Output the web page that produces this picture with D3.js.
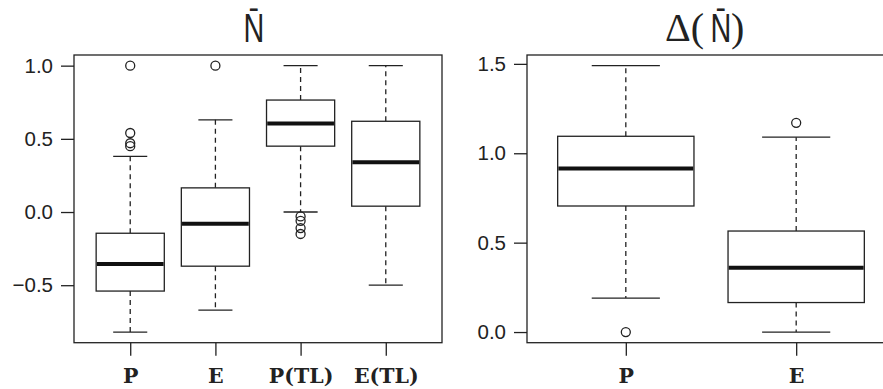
<!DOCTYPE html>
<html>
<head>
<meta charset="utf-8">
<script src="https://cdn.jsdelivr.net/npm/d3@7"></script>
<style>
  body { margin: 0; background: #fff; }
  svg { display: block; }
</style>
</head>
<body>
<svg width="883" height="389"></svg>
<script>
// left panel: N-bar by method
const leftCats = ['P', 'E', 'P(TL)', 'E(TL)'];
const leftLow = [-0.82, -0.67, 0.0, -0.50];
const leftQ1 = [-0.54, -0.37, 0.45, 0.04];
const leftMed = [-0.355, -0.08, 0.605, 0.34];
const leftQ3 = [-0.145, 0.165, 0.765, 0.62];
const leftHigh = [0.38, 0.63, 1.0, 1.0];
const leftOut = [[0.45, 0.47, 0.54, 1.0], [1.0], [-0.03, -0.06, -0.11, -0.15], []];
const leftTicks = [-0.5, 0.0, 0.5, 1.0];

// right panel: delta of N-bar
const rightCats = ['P', 'E'];
const rightLow = [0.19, 0.0];
const rightQ1 = [0.705, 0.165];
const rightMed = [0.915, 0.36];
const rightQ3 = [1.095, 0.565];
const rightHigh = [1.49, 1.09];
const rightOut = [[0.0], [1.17]];
const rightTicks = [0.0, 0.5, 1.0, 1.5];

const ink = '#222';
const sans = '"Liberation Sans", Arial, sans-serif';
const serif = '"Liberation Serif", "Times New Roman", serif';
const svg = d3.select('svg');
const plotTop = 55, plotBottom = 342.7, panelW = 368;

function drawPanel(left, cats, low, q1, med, q3, high, out, ticks) {
  const n = cats.length;
  // R style: xlim 0.5..n+0.5 padded by 4%
  const xPad = n * 0.04;
  const x = d3.scaleLinear()
    .domain([0.5 - xPad, n + 0.5 + xPad])
    .range([left, left + panelW]);
  const all = low.concat(high, out.flat());
  const ext = d3.extent(all);
  const yPad = (ext[1] - ext[0]) * 0.04;
  const y = d3.scaleLinear()
    .domain([ext[0] - yPad, ext[1] + yPad])
    .range([plotBottom, plotTop]);
  const unit = x(2) - x(1);
  const boxW = unit * 0.8;

  const g = svg.append('g');

  cats.forEach((c, i) => {
    const cx = x(i + 1);
    // whiskers
    [[q3[i], high[i]], [q1[i], low[i]]].forEach(([a, b]) => {
      g.append('line')
        .attr('x1', cx).attr('x2', cx)
        .attr('y1', y(a)).attr('y2', y(b))
        .attr('stroke', ink).attr('stroke-width', 1.3)
        .attr('stroke-dasharray', '5,4');
      g.append('line')
        .attr('x1', cx - boxW / 4).attr('x2', cx + boxW / 4)
        .attr('y1', y(b)).attr('y2', y(b))
        .attr('stroke', ink).attr('stroke-width', 1.3);
    });
    g.append('rect')
      .attr('x', cx - boxW / 2)
      .attr('y', y(q3[i]))
      .attr('width', boxW)
      .attr('height', y(q1[i]) - y(q3[i]))
      .attr('fill', '#fff')
      .attr('stroke', ink).attr('stroke-width', 1.3);
    g.append('line')
      .attr('x1', cx - boxW / 2 + 0.7).attr('x2', cx + boxW / 2 - 0.7)
      .attr('y1', y(med[i])).attr('y2', y(med[i]))
      .attr('stroke', '#111').attr('stroke-width', 4);
    g.selectAll(null).data(out[i])
      .join('circle')
        .attr('cx', cx)
        .attr('cy', d => y(d))
        .attr('r', 4.5)
        .attr('fill', 'none')
        .attr('stroke', ink).attr('stroke-width', 1.3);
  });

  // frame
  g.append('rect')
    .attr('x', left).attr('y', plotTop)
    .attr('width', panelW).attr('height', plotBottom - plotTop)
    .attr('fill', 'none')
    .attr('stroke', ink).attr('stroke-width', 1.3);

  const yAxis = d3.axisLeft(y)
    .tickValues(ticks)
    .tickFormat(d => d3.format('.1f')(d).replace('-', '\u2212'))
    .tickSize(13)
    .tickPadding(8);
  const yAxisG = svg.append('g')
    .attr('transform', `translate(${left},0)`)
    .call(yAxis);
  yAxisG.select('.domain').remove();
  yAxisG.selectAll('line').attr('stroke', ink).attr('stroke-width', 1.3);
  yAxisG.selectAll('text')
    .style('font-family', sans)
    .style('font-size', '20.5px')
    .attr('fill', ink);

  const xAxis = d3.axisBottom(x)
    .tickValues(d3.range(1, n + 1))
    .tickFormat(d => cats[d - 1])
    .tickSize(13)
    .tickPadding(8);
  const xAxisG = svg.append('g')
    .attr('transform', `translate(0,${plotBottom})`)
    .call(xAxis);
  xAxisG.select('.domain').remove();
  xAxisG.selectAll('line').attr('stroke', ink).attr('stroke-width', 1.3);
  xAxisG.selectAll('text')
    .style('font-family', '"DejaVu Serif", serif')
    .style('font-weight', 'bold')
    .style('font-size', '20.5px')
    .attr('fill', ink)
    .attr('dy', null)
    .attr('y', 40);

  return x;
}

drawPanel(74, leftCats, leftLow, leftQ1, leftMed, leftQ3, leftHigh, leftOut, leftTicks);
drawPanel(527, rightCats, rightLow, rightQ1, rightMed, rightQ3, rightHigh, rightOut, rightTicks);

// titles
function nBar(cx, baseline) {
  svg.append('text')
    .attr('transform', `translate(${cx},${baseline}) scale(0.72,1)`)
    .attr('text-anchor', 'middle')
    .style('font-family', sans)
    .style('font-size', '40px')
    .attr('fill', ink)
    .text('N\u0304');
}
nBar(254, 42);

svg.append('text')
  .attr('x', 704).attr('y', 41)
  .attr('text-anchor', 'end')
  .style('font-family', serif)
  .style('font-size', '40px')
  .attr('fill', ink)
  .text('\u0394(');
nBar(721, 42);
svg.append('text')
  .attr('x', 731).attr('y', 41)
  .style('font-family', serif)
  .style('font-size', '40px')
  .attr('fill', ink)
  .text(')');
</script>
</body>
</html>
